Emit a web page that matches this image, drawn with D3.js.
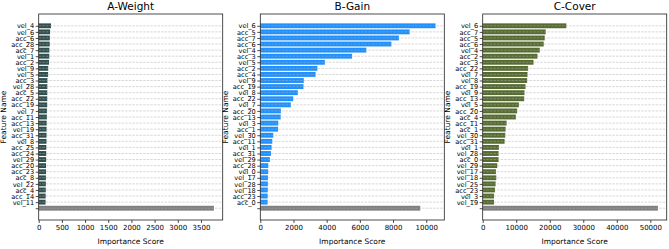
<!DOCTYPE html>
<html>
<head>
<meta charset="utf-8">
<script src="https://cdn.jsdelivr.net/npm/d3@7"></script>
<style>
  html, body { margin: 0; padding: 0; background: #fff; }
  svg { display: block; font-family: "DejaVu Sans", sans-serif; }
</style>
</head>
<body>
<svg id="chart" width="669" height="249"></svg>
<script>
// ---------- data ----------
const aLabels = ["vel_4","vel_6","acc_6","acc_28","acc_7","vel_1","acc_2","vel_9","vel_5","acc_3","vel_28","acc_5","acc_22","acc_19","vel_7","acc_11","acc_13","vel_19","acc_31","vel_8","acc_25","acc_24","vel_29","acc_20","acc_23","acc_8","vel_22","acc_4","acc_14","vel_11"];
const aValues = [265,245,240,238,230,228,222,205,203,188,186,185,184,183,178,176,172,170,169,168,164,162,160,158,157,155,154,152,150,148];
const aOther = 3780;

const bLabels = ["vel_6","acc_5","acc_7","acc_6","vel_4","acc_3","vel_5","acc_2","acc_4","vel_9","acc_19","vel_8","acc_22","vel_7","acc_20","acc_13","vel_3","acc_1","vel_30","acc_11","vel_1","acc_31","vel_29","acc_28","vel_0","vel_17","vel_28","vel_18","acc_23","acc_0"];
const bValues = [10560,9000,8350,7900,6390,5530,3890,3440,3330,2620,2600,2260,1980,1840,1240,1230,1080,1070,780,720,680,640,580,480,475,460,455,450,445,440];
const bOther = 9640;

const cLabels = ["vel_6","acc_7","acc_5","acc_6","vel_4","acc_2","acc_3","acc_22","vel_7","vel_8","acc_19","vel_9","acc_13","vel_5","acc_20","acc_4","acc_11","acc_1","vel_30","acc_31","vel_1","vel_28","acc_0","vel_29","vel_17","vel_18","vel_25","acc_23","vel_3","vel_19"];
const cValues = [24950,18800,18500,18200,17020,16330,15150,13550,13360,13260,12770,12470,12380,10780,10280,9890,7130,6830,6730,6530,4840,4740,4740,4340,3950,4050,3850,3650,3360,3360];
const cOther = 52270;

const titles = ["A-Weight","B-Gain","C-Cover"];
const aTicks = [0,500,1000,1500,2000,2500,3000,3500];
const bTicks = [0,2000,4000,6000,8000,10000];
const cTicks = [0,10000,20000,30000,40000,50000];
const barColors = ["#2f4f4f","#1e90ff","#556b2f"];
const otherColor = "#808080";

// ---------- layout ----------
const svg = d3.select("#chart");
const plotTop = 14, plotBottom = 220;
const panelLeft = [38.7, 260.3, 482.7];
const panelWidth = 184;

const panels = [
  {labels: aLabels, values: aValues, other: aOther, ticks: aTicks},
  {labels: bLabels, values: bValues, other: bOther, ticks: bTicks},
  {labels: cLabels, values: cValues, other: cOther, ticks: cTicks}
];

panels.forEach((p, i) => {
  const n = p.labels.length;
  const rows = [{label: "", value: p.other, other: true}]
    .concat(p.labels.slice().reverse().map((l, k) => ({label: l, value: p.values[n - 1 - k], other: false})));
  const maxV = d3.max(rows, d => d.value);
  const x = d3.scaleLinear().domain([0, maxV * 1.05]).range([panelLeft[i], panelLeft[i] + panelWidth]);
  const lo = -0.4, hi = rows.length - 1 + 0.4, m = (hi - lo) * 0.05;
  const y = d3.scaleLinear().domain([lo - m, hi + m]).range([plotBottom, plotTop]);
  const bh = y(0) - y(0.8);

  const g = svg.append("g");

  g.selectAll("rect.bar").data(rows).enter().append("rect")
    .attr("x", x(0))
    .attr("y", (d, k) => y(k + 0.4))
    .attr("width", d => x(d.value) - x(0))
    .attr("height", bh)
    .attr("fill", d => d.other ? otherColor : barColors[i]);

  g.selectAll("line.grid").data(rows).enter().append("line")
    .attr("x1", x.range()[0]).attr("x2", x.range()[1])
    .attr("y1", (d, k) => y(k)).attr("y2", (d, k) => y(k))
    .attr("stroke", "#b0b0b0").attr("stroke-opacity", 0.7)
    .attr("stroke-width", 0.7).attr("stroke-dasharray", "2.5,1.1");

  const yAxis = d3.axisLeft(y).tickValues(d3.range(rows.length))
    .tickFormat(k => rows[k].label).tickSize(3).tickPadding(1.5);
  const ya = g.append("g").attr("transform", `translate(${x.range()[0]},0)`).call(yAxis);
  ya.select(".domain").remove();
  ya.selectAll("text").attr("font-size", 6.6).attr("fill", "#000").attr("font-family", "DejaVu Sans");
  ya.selectAll("line").attr("stroke", "#000").attr("stroke-width", 0.7);

  const xAxis = d3.axisBottom(x).tickValues(p.ticks).tickFormat(d3.format("d")).tickSize(3).tickPadding(2);
  const xa = g.append("g").attr("transform", `translate(0,${plotBottom})`).call(xAxis);
  xa.select(".domain").remove();
  xa.selectAll("text").attr("font-size", 7).attr("fill", "#000").attr("font-family", "DejaVu Sans");
  xa.selectAll("line").attr("stroke", "#000").attr("stroke-width", 0.7);

  g.append("rect")
    .attr("x", x.range()[0]).attr("y", plotTop)
    .attr("width", panelWidth).attr("height", plotBottom - plotTop)
    .attr("fill", "none").attr("stroke", "#222").attr("stroke-width", 0.8);

  g.append("text")
    .attr("x", x.range()[0] + panelWidth / 2).attr("y", 10)
    .attr("text-anchor", "middle").attr("font-size", 10.5).attr("fill", "#000")
    .text(titles[i]);

  g.append("text")
    .attr("x", x.range()[0] + panelWidth / 2).attr("y", 244)
    .attr("text-anchor", "middle").attr("font-size", 7.5).attr("fill", "#000")
    .text("Importance Score");

  g.append("text")
    .attr("transform", `translate(${x.range()[0] - 32.5},${(plotTop + plotBottom) / 2}) rotate(-90)`)
    .attr("text-anchor", "middle").attr("font-size", 7.5).attr("fill", "#000")
    .text("Feature Name");
});
</script>
</body>
</html>
